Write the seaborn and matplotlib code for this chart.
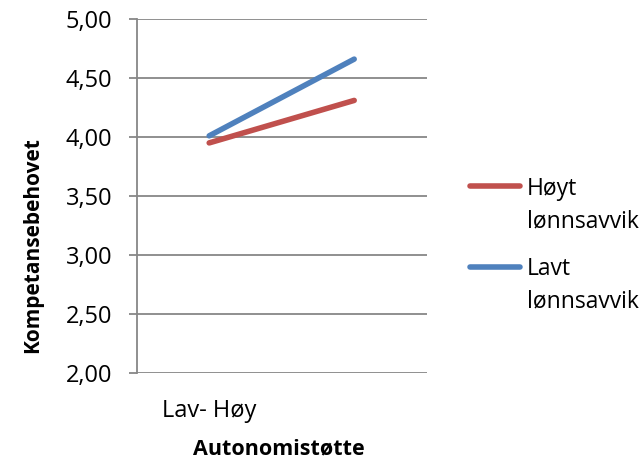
import matplotlib
matplotlib.use("Agg")
import matplotlib.pyplot as plt
from matplotlib.lines import Line2D
import seaborn as sns
import pandas as pd

# Chart data
positions = [0, 1]
tick_labels = ["Lav- Høy", ""]
series_names = ["Høyt lønnsavvik", "Lavt lønnsavvik"]
series_colors = ["#C0504D", "#4F81BD"]
hoyt_values = [3.95, 4.31]
lavt_values = [4.01, 4.66]
y_ticks = [2.0, 2.5, 3.0, 3.5, 4.0, 4.5, 5.0]

df = pd.DataFrame({
    "x": positions * 2,
    "y": hoyt_values + lavt_values,
    "serie": [series_names[0]] * 2 + [series_names[1]] * 2,
})

sns.set_theme(style="white")
plt.rcParams["font.family"] = ["Open Sans", "DejaVu Sans"]
plt.rcParams["text.color"] = "black"

W, H = 643, 461
fig = plt.figure(figsize=(W / 100, H / 100), dpi=100)
ax = fig.add_axes([136.7 / W, 1 - 373 / H, 290 / W, 354 / H])

LW = 4.0
sns.lineplot(data=df, x="x", y="y", hue="serie", hue_order=series_names,
             palette=series_colors, linewidth=LW, ax=ax,
             solid_capstyle="round", legend=False)

grid_color = "#878787"
ax.set_xlim(-0.5, 1.5)
ax.set_ylim(2.0, 5.0)
ax.set_yticks(y_ticks)
ax.set_yticklabels([f"{v:.2f}".replace(".", ",") for v in y_ticks])
ax.set_xticks(positions)
ax.set_xticklabels(tick_labels)
for v in y_ticks:
    ax.axhline(v, color=grid_color, linewidth=1.3, zorder=0)

for side in ["top", "right", "bottom"]:
    ax.spines[side].set_visible(False)
ax.spines["left"].set_color(grid_color)
ax.spines["left"].set_linewidth(1.3)

ax.tick_params(axis="y", which="major", left=True, length=6, width=1.3,
               color=grid_color, pad=11.5, labelsize=17, labelcolor="black")
ax.tick_params(axis="x", bottom=False, pad=13, labelsize=17, labelcolor="black")

ax.set_xlabel("Autonomistøtte", fontsize=15.5, fontweight="bold", color="black")
ax.set_ylabel("Kompetansebehovet", fontsize=15, fontweight="bold", color="black")
ax.xaxis.set_label_coords(0.491, -0.231)
ax.xaxis.label.set_va("baseline")
ax.yaxis.set_label_coords(-0.36, 0.362)
ax.yaxis.label.set_va("center")

# Legend: line key beside a two-line label for each series
key_rows = [186, 267]
text_rows = [(195, 227), (275, 307)]
for name, color, ky, (b1, b2) in zip(series_names, series_colors, key_rows, text_rows):
    fig.add_artist(Line2D([469.5 / W, 519.5 / W], [1 - ky / H, 1 - ky / H],
                          color=color, linewidth=LW, solid_capstyle="round",
                          transform=fig.transFigure))
    first, second = name.split(" ")
    fig.text(527 / W, 1 - b1 / H, first, fontsize=16.5, va="baseline", ha="left",
             color="black")
    fig.text(527 / W, 1 - b2 / H, second, fontsize=16.5, va="baseline", ha="left",
             color="black")

fig.savefig("out.png", dpi=100, facecolor="white")
